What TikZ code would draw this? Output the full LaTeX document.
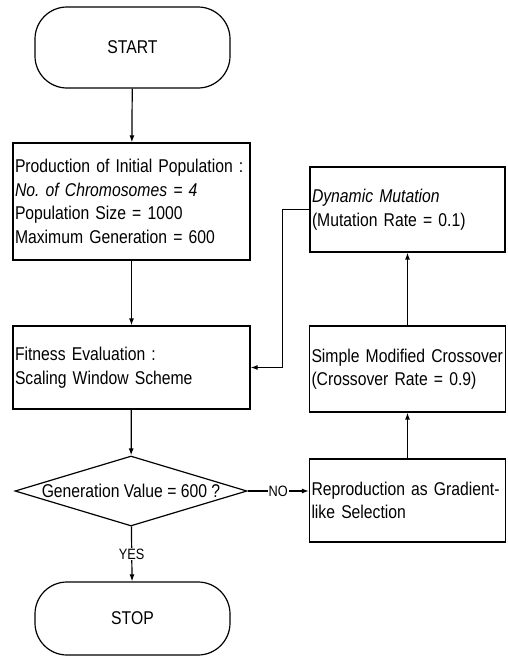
\documentclass[tikz,border=0pt]{standalone}
\usepackage{fontspec}
\setmainfont{Liberation Sans}[FakeStretch=0.85]
\usetikzlibrary{shapes.geometric,arrows.meta}
\begin{document}
\begin{tikzpicture}[x=1pt,y=-1pt,
  every node/.style={font=\fontsize{18.5}{23.5}\selectfont},
  box/.style={draw,line width=1.2pt,rectangle,align=left,inner xsep=2pt,inner ysep=0pt},
  term/.style={draw,line width=1.2pt,rectangle,rounded corners=32pt,minimum width=195pt},
  arr/.style={line width=1.2pt,-{Latex[length=7pt,width=5pt]}},
  lbl/.style={fill=white,inner sep=1pt,font=\fontsize{15}{17}\selectfont}]
\useasboundingbox (0,0) rectangle (508,656);
\node[term,minimum height=81pt] (start) at (132.5,47.5) {START};
\node[box,minimum width=237pt,minimum height=117pt,text width=233pt] (prod) at (131.5,201.5)
  {\mbox{Production of Initial Population :}\\ \textit{No.\ of Chromosomes = 4}\\ Population Size = 1000\\ Maximum Generation = 600};
\node[box,minimum width=237pt,minimum height=83pt,text width=233pt] (fit) at (131.5,367.5)
  {Fitness Evaluation :\\ Scaling Window Scheme};
\node[draw,line width=1.2pt,diamond,aspect=3.3,inner sep=0pt,minimum width=232pt,minimum height=70pt] (dec) at (131,491)
  {Generation Value = 600 ?};
\node[term,minimum height=73pt] (stop) at (132.5,618.5) {STOP};
\node[box,minimum width=195pt,minimum height=85pt,text width=191pt] (mut) at (407.5,209.5)
  {\textit{Dynamic Mutation}\\ (Mutation Rate = 0.1)};
\node[box,minimum width=196pt,minimum height=86pt,text width=192pt] (cross) at (407.5,369)
  {\mbox{Simple Modified Crossover}\\ (Crossover Rate = 0.9)};
\node[box,minimum width=196pt,minimum height=83pt,text width=192pt] (repro) at (407.5,500.5)
  {\mbox{Reproduction as Gradient-}\\ like Selection};
\draw[arr] (start) -- (prod);
\draw[arr] (prod) -- (fit);
\draw[arr] (fit) -- (dec);
\draw[arr] (dec) -- node[lbl] {YES} (stop);
\draw[arr] (dec.east) -- node[lbl] {NO} (repro.west |- dec.east);
\draw[arr] (repro) -- (cross);
\draw[arr] (cross) -- (mut);
\draw[arr] (mut.west) -| ([xshift=32pt]fit.east) -- (fit.east);
\end{tikzpicture}
\end{document}
